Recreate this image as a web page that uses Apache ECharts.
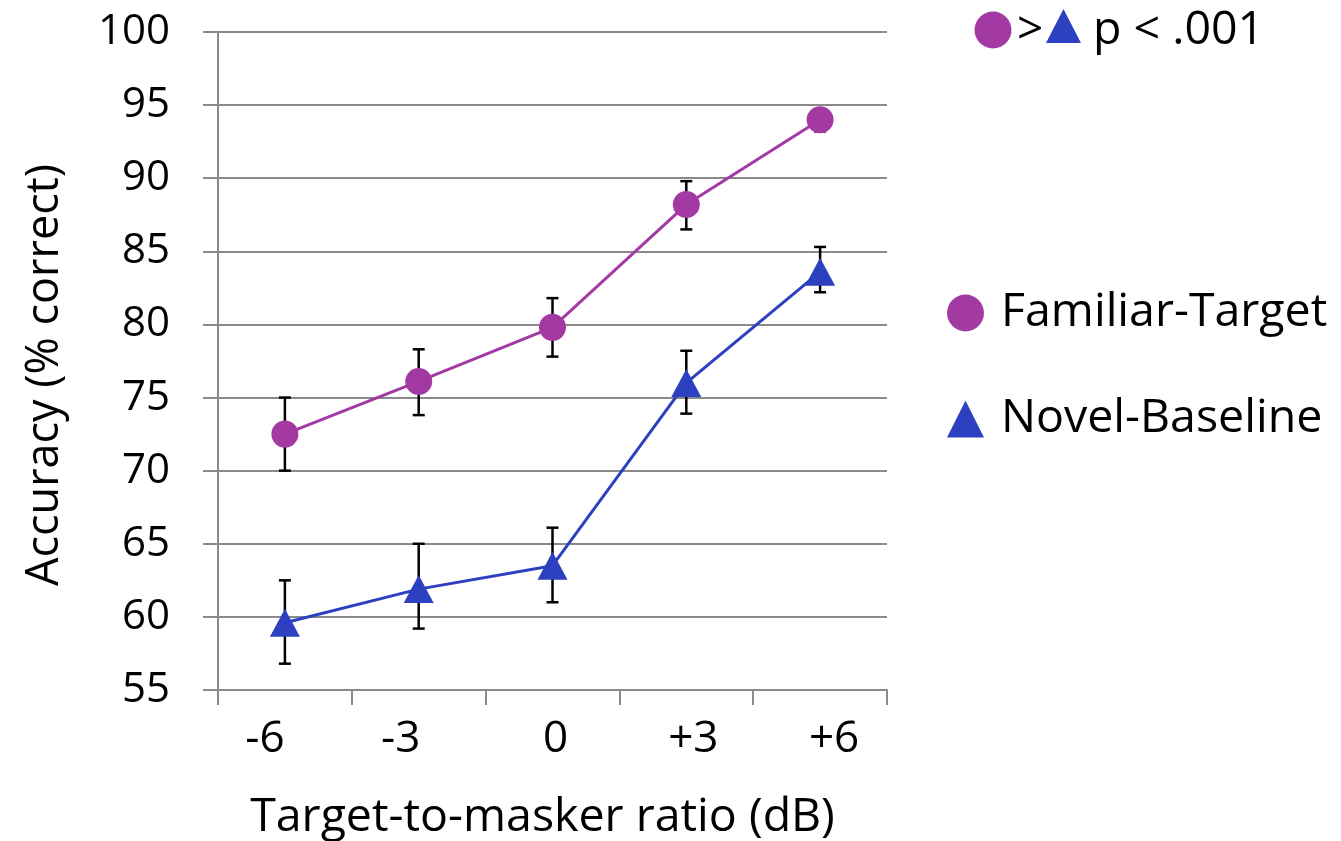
<!DOCTYPE html>
<html><head><meta charset="utf-8">
<script src="https://cdn.jsdelivr.net/npm/echarts@6/dist/echarts.min.js"></script>
<style>html,body{margin:0;padding:0;background:#fff}#c{width:1341px;height:841px}</style>
</head><body><div id="c"></div>
<script>
// ---- data ----
const categories = ['-6', '-3', '0', '+3', '+6'];
const familiarMean = [72.5, 76.1, 79.8, 88.2, 94.0];
const familiarLow  = [70.0, 73.8, 77.8, 86.5, 93.2];
const familiarHigh = [75.0, 78.3, 81.8, 89.8, 94.7];
const novelMean = [59.6, 61.9, 63.5, 76.0, 83.6];
const novelLow  = [56.8, 59.2, 61.0, 73.9, 82.2];
const novelHigh = [62.5, 65.0, 66.1, 78.2, 85.3];
const seriesNames = ['Familiar-Target', 'Novel-Baseline'];
const yMin = 55, yMax = 100, yStep = 5;
const xTitle = 'Target-to-masker ratio (dB)';
const yTitle = 'Accuracy (% correct)';
const noteText = 'p < .001';

// ---- style ----
const FONT = "'Open Sans', sans-serif";
const PURPLE = '#A33AA3';
const BLUE = '#2C40C0';
const GRID = '#8a8a8a';
// horizontal nudges of the x tick labels (px), as in the reference layout
const xLabelShift = [-20, -18, 3, 7, 14];

function errData(low, high) {
  return categories.map((c, i) => [i, low[i], high[i]]);
}
function renderErr(params, api) {
  const x = api.value(0);
  const p1 = api.coord([x, api.value(1)]);
  const p2 = api.coord([x, api.value(2)]);
  const hw = 6;
  const st = { stroke: '#000', lineWidth: 2.5 };
  return {
    type: 'group',
    children: [
      { type: 'line', shape: { x1: p1[0], y1: p1[1], x2: p2[0], y2: p2[1] }, style: st },
      { type: 'line', shape: { x1: p1[0] - hw, y1: p1[1], x2: p1[0] + hw, y2: p1[1] }, style: st },
      { type: 'line', shape: { x1: p2[0] - hw, y1: p2[1], x2: p2[0] + hw, y2: p2[1] }, style: st }
    ]
  };
}
const xRich = {};
xLabelShift.forEach((d, i) => {
  xRich['s' + i] = {
    fontSize: 44, color: '#000', fontFamily: FONT,
    padding: d < 0 ? [0, -2 * d, 0, 0] : [0, 0, 0, 2 * d]
  };
});

const chart = echarts.init(document.getElementById('c'), null, { renderer: 'canvas' });
chart.setOption({
  animation: false,
  backgroundColor: '#fff',
  textStyle: { fontFamily: FONT },
  grid: { left: 218, right: 454, top: 32, bottom: 151, containLabel: false, outerBoundsMode: 'none' },
  xAxis: {
    type: 'category',
    data: categories,
    boundaryGap: true,
    axisLine: { show: true, lineStyle: { color: GRID, width: 2 } },
    axisTick: { show: true, interval: 0, length: 15, lineStyle: { color: GRID, width: 2 } },
    axisLabel: {
      interval: 0, hideOverlap: false,
      fontSize: 44, color: '#000', margin: 27, fontFamily: FONT,
      formatter: (v, i) => '{s' + i + '|' + v + '}',
      rich: xRich
    },
    name: xTitle,
    nameLocation: 'middle',
    nameGap: 104,
    nameTextStyle: { fontSize: 46.5, color: '#000', fontFamily: FONT, padding: [0, 20, 0, 0] },
    splitLine: { show: false }
  },
  yAxis: {
    type: 'value',
    min: yMin, max: yMax, interval: yStep,
    axisLine: { show: true, lineStyle: { color: GRID, width: 2 } },
    axisTick: { show: true, length: 15, lineStyle: { color: GRID, width: 2 } },
    axisLabel: { fontSize: 42, color: '#000', margin: 48, fontFamily: FONT },
    splitLine: { show: true, lineStyle: { color: GRID, width: 2 } },
    name: yTitle,
    nameLocation: 'middle',
    nameGap: 150,
    nameRotate: 90,
    nameTextStyle: { fontSize: 45, color: '#000', fontFamily: FONT, padding: [0, 28, 0, 0] }
  },
  legend: {
    orient: 'vertical',
    left: 942,
    top: 275,
    itemWidth: 37,
    itemHeight: 37,
    itemGap: 40,
    textStyle: { fontSize: 46.5, color: '#000', fontFamily: FONT, lineHeight: 50, padding: [16, 0, 0, 12] },
    data: [
      { name: seriesNames[0], icon: 'circle', itemStyle: { color: PURPLE } },
      { name: seriesNames[1], icon: 'triangle', itemStyle: { color: BLUE } }
    ]
  },
  graphic: [
    { type: 'circle', shape: { cx: 993, cy: 30, r: 18.5 }, style: { fill: PURPLE } },
    { type: 'text', x: 1017, y: 31, style: { text: '>', font: '46px ' + FONT, fill: '#000', textVerticalAlign: 'middle' } },
    { type: 'polygon', shape: { points: [[1046, 43], [1081, 43], [1063.5, 9]] }, style: { fill: BLUE } },
    { type: 'text', x: 1093, y: 31, style: { text: noteText, font: '46.5px ' + FONT, fill: '#000', textVerticalAlign: 'middle' } }
  ],
  series: [
    {
      type: 'custom', name: 'errF', z: 1, silent: true,
      renderItem: renderErr, data: errData(familiarLow, familiarHigh),
      encode: { x: 0, y: [1, 2] }
    },
    {
      type: 'custom', name: 'errN', z: 1, silent: true,
      renderItem: renderErr, data: errData(novelLow, novelHigh),
      encode: { x: 0, y: [1, 2] }
    },
    {
      type: 'line', name: seriesNames[0], data: familiarMean, z: 3,
      symbol: 'circle', symbolSize: 27,
      lineStyle: { color: PURPLE, width: 3 },
      itemStyle: { color: PURPLE }
    },
    {
      type: 'line', name: seriesNames[1], data: novelMean, z: 3,
      symbol: 'triangle', symbolSize: [30, 28],
      lineStyle: { color: BLUE, width: 3 },
      itemStyle: { color: BLUE }
    }
  ]
});
</script>
</body></html>
